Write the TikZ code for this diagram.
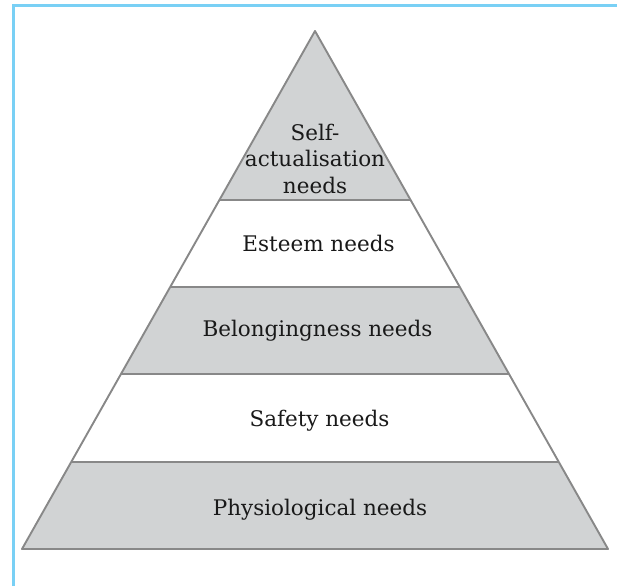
\documentclass[tikz,border=0pt]{standalone}
\usepackage{fontspec}
\setmainfont{DejaVu Serif}
\definecolor{bandgray}{HTML}{D1D3D4}
\definecolor{edgegray}{HTML}{888888}
\definecolor{frameblue}{HTML}{79D0F5}
\tikzset{
  band/.style={fill=bandgray, draw=none},
  edge/.style={draw=edgegray, line width=1.9pt, line join=round},
  label/.style={font=\fontsize{21.5}{26.5}\selectfont, text=black!90, align=center, inner sep=0pt}
}
\begin{document}
\begin{tikzpicture}[x=1pt,y=-1pt]
\useasboundingbox (0,0) rectangle (617,586);
% frame
\draw[frameblue, line width=3pt] (13,586) -- (13,6) -- (617,6);
% coordinates
\coordinate (apex) at (315,31);
\coordinate (l1) at (219.4,200); \coordinate (r1) at (410.6,200);
\coordinate (l2) at (170.2,287); \coordinate (r2) at (459.8,287);
\coordinate (l3) at (121.0,374); \coordinate (r3) at (509.0,374);
\coordinate (l4) at (71.2,462);  \coordinate (r4) at (558.8,462);
\coordinate (l5) at (22,549);    \coordinate (r5) at (608,549);
% bands
\fill[band] (apex) -- (r1) -- (l1) -- cycle;
\fill[band] (l2) -- (r2) -- (r3) -- (l3) -- cycle;
\fill[band] (l4) -- (r4) -- (r5) -- (l5) -- cycle;
% outline
\draw[edge] (apex) -- (r5) -- (l5) -- cycle;
\draw[edge] (l1) -- (r1);
\draw[edge] (l2) -- (r2);
\draw[edge] (l3) -- (r3);
\draw[edge] (l4) -- (r4);
% labels
\node[label] (self) at (315,158.5) {Self-\\actualisation\\needs};
\node[label] (esteem) at (318.5,243) {Esteem needs};
\node[label] (belong) at (317.5,331) {Belongingness needs};
\node[label] (safety) at (319.5,420.5) {Safety needs};
\node[label] (physio) at (320,509.5) {Physiological needs};
\end{tikzpicture}
\end{document}
